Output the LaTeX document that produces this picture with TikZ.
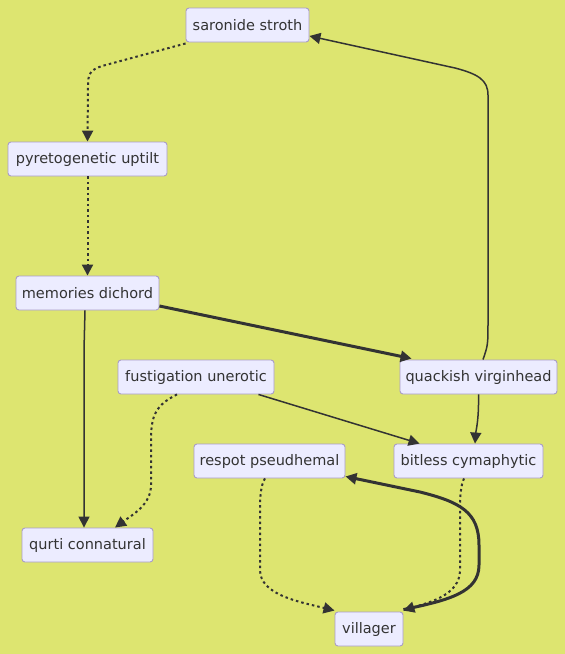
\documentclass[tikz,border=0pt]{standalone}
\usepackage{fontspec}
\setmainfont{DejaVu Sans}
\usetikzlibrary{arrows.meta}
\definecolor{bg}{RGB}{221,229,112}
\definecolor{nodefill}{RGB}{236,236,255}
\definecolor{nodeborder}{RGB}{168,156,200}
\definecolor{ink}{RGB}{51,51,51}
\tikzset{
  box/.style={draw=nodeborder, fill=nodefill, rounded corners=3pt, line width=0.9pt,
    minimum height=34pt, inner sep=0pt, text=ink, font=\fontsize{14.5}{16}\selectfont},
  edge/.style={draw=ink, line width=1.5pt, -{Triangle[length=11pt,width=11pt]}},
  thickedge/.style={draw=ink, line width=3pt, -{Triangle[length=11pt,width=11pt]}},
  dotedge/.style={draw=ink, line width=2pt, dash pattern=on 2.5pt off 3pt, -{Triangle[length=11pt,width=11pt]}}
}
\begin{document}
\begin{tikzpicture}[x=1pt,y=-1pt]
\fill[bg] (0,0) rectangle (565,654);
\useasboundingbox (0,0) rectangle (565,654);
\node[box, minimum width=123pt] (sar) at (247.5,25) {saronide stroth};
\node[box, minimum width=159pt] (pyr) at (87.5,159) {pyretogenetic uptilt};
\node[box, minimum width=143pt] (mem) at (87.5,293) {memories dichord};
\node[box, minimum width=156pt] (fus) at (196,377) {fustigation unerotic};
\node[box, minimum width=157pt] (qua) at (478.5,377) {quackish virginhead};
\node[box, minimum width=151pt] (rsp) at (269.5,461) {respot pseudhemal};
\node[box, minimum width=149pt] (bit) at (468.5,461) {bitless cymaphytic};
\node[box, minimum width=131pt] (qur) at (87.5,545) {qurti connatural};
\node[box, minimum width=68pt] (vil) at (369,629) {villager};
% edges
\draw[dotedge] ([yshift=-1pt]sar.south west) -- (102,66) .. controls (90,70) and (88,74) .. (88,86) -- (pyr.north);
\draw[dotedge] (pyr.south) -- (mem.north);
\draw[thickedge] ([yshift=-13pt]mem.east) -- ([xshift=12pt,yshift=1pt]qua.north west);
\draw[edge] ([xshift=-2.5pt]mem.south) .. controls (84,330) .. (84,350) -- ([xshift=-3.5pt]qur.north);
\draw[edge] ([xshift=4.5pt]qua.north) .. controls (488,345) .. (488,320) -- (488,95) .. controls (488,80) and (478,74) .. (455,68) -- ([yshift=-11pt]sar.east);
\draw[dotedge] ([xshift=-19pt]fus.south) .. controls (156,405) and (151,415) .. (151,440) -- (151,485) .. controls (151,505) and (132,515) .. ([xshift=27.5pt]qur.north);
\draw[edge] ([xshift=-16pt]fus.south east) -- ([xshift=26pt]bit.north west);
\draw[edge] (qua.south) .. controls (479,420) and (476,430) .. ([xshift=6.5pt]bit.north);
\draw[dotedge] ([xshift=-4.5pt]rsp.south) .. controls (261,485) and (260,495) .. (260,510) -- (260,570) .. controls (260,595) and (300,602) .. ([yshift=1pt]vil.north west);
\draw[dotedge] ([xshift=-4.5pt]bit.south) .. controls (461,485) and (460,495) .. (460,510) -- (460,570) .. controls (460,595) and (430,602) .. ([yshift=1pt]vil.north east);
\draw[thickedge] ([yshift=2pt]vil.north east) .. controls (450,600) and (479,592) .. (479,565) -- (479,545) .. controls (479,512) and (460,502) .. (420,492) -- ([yshift=2pt]rsp.south east);
\end{tikzpicture}
\end{document}
